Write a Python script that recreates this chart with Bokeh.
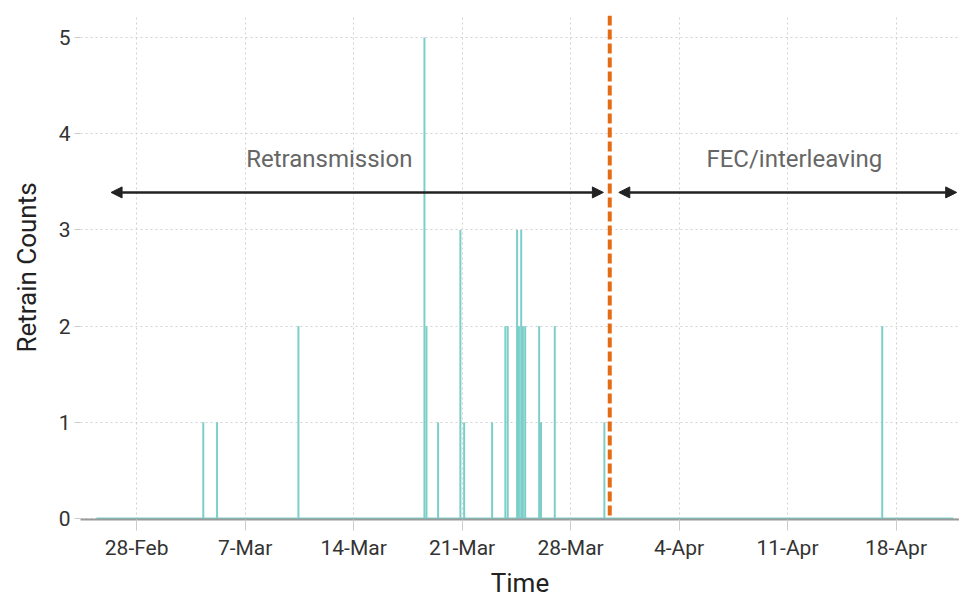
import pandas as pd
from bokeh.plotting import figure
from bokeh.models import (ColumnDataSource, FixedTicker, DatetimeTickFormatter, Span,
                          Arrow, NormalHead, Range1d)
from bokeh.core.properties import value
from bokeh.embed import file_html
from bokeh.resources import INLINE

# ---------------- data ----------------
event_times = ["2019-03-04 07:10", "2019-03-05 04:30", "2019-03-10 10:30",
               "2019-03-18 13:40", "2019-03-18 16:50", "2019-03-19 10:50",
               "2019-03-20 21:20", "2019-03-21 03:10", "2019-03-22 22:30",
               "2019-03-23 19:00", "2019-03-23 22:40", "2019-03-24 13:10",
               "2019-03-24 16:00", "2019-03-24 19:30", "2019-03-24 22:10",
               "2019-03-25 01:40", "2019-03-25 23:20", "2019-03-26 02:10",
               "2019-03-26 23:30", "2019-03-30 04:20", "2019-04-17 02:40"]
retrain_counts = [1, 1, 2, 5, 2, 1, 3, 1, 1, 2, 2, 3, 2, 3, 2, 2, 2, 1, 2, 1, 2]

series_start = "2019-02-25 09:40"
series_end = "2019-04-21 17:00"

switch_time = "2019-03-30 12:40"

tick_dates = ["2019-02-28", "2019-03-07", "2019-03-14", "2019-03-21",
              "2019-03-28", "2019-04-04", "2019-04-11", "2019-04-18"]
y_ticks = [0, 1, 2, 3, 4, 5]

phase_labels = ["Retransmission", "FEC/interleaving"]
phase_label_x = ["2019-03-12 10:20", "2019-04-11 10:30"]
phase_arrow_start = ["2019-02-26 08:20", "2019-03-31 02:40"]
phase_arrow_end = ["2019-03-30 02:50", "2019-04-21 22:00"]


def ms(s):
    return pd.Timestamp(s).timestamp() * 1000.0


FONT = "Roboto"
TEAL = "#7ccfc9"

x_start = ms("2019-02-24 09:00")
x_end = ms("2019-04-22 02:20")

p = figure(width=959, height=600, x_axis_type="datetime",
           output_backend="svg", toolbar_location=None,
           x_range=Range1d(x_start, x_end), y_range=Range1d(-0.01, 5.229),
           min_border_left=80, min_border_right=0, min_border_top=15,
           min_border_bottom=81)
p.outline_line_color = None
p.background_fill_color = "white"
p.border_fill_color = "white"

# grids
for g in (p.xgrid, p.ygrid):
    g.grid_line_color = "#d2d2d2"
    g.grid_line_dash = "2 3"
    g.grid_line_width = 1

# axes
p.xaxis.ticker = FixedTicker(ticks=[ms(d) for d in tick_dates])
fmt = "%-d-%b"
p.xaxis.formatter = DatetimeTickFormatter(days=fmt, months=fmt, hours=fmt,
                                          years=fmt, hourmin=fmt)
p.yaxis.ticker = FixedTicker(ticks=y_ticks)

p.xaxis.axis_line_color = "#9a9a9a"
p.xaxis.axis_line_width = 2
p.yaxis.axis_line_color = None
for ax in (p.xaxis, p.yaxis):
    ax.major_tick_line_color = "#cccccc"
    ax.major_tick_in = 0
    ax.minor_tick_line_color = None
    ax.major_label_text_font = FONT
    ax.major_label_text_font_size = "21px"
    ax.major_label_text_color = "#333333"
    ax.axis_label_text_font = FONT
    ax.axis_label_text_font_size = "26px"
    ax.axis_label_text_font_style = "normal"
    ax.axis_label_text_color = "#222222"
p.xaxis.major_tick_out = 11
p.xaxis.major_label_standoff = 5
p.xaxis.axis_label_standoff = 5
p.yaxis.major_tick_out = 6
p.yaxis.major_label_standoff = 4
p.yaxis.axis_label_standoff = 14
p.xaxis.axis_label = "Time"
p.yaxis.axis_label = "Retrain Counts"

# baseline of the series
base = ColumnDataSource(dict(t=pd.to_datetime([series_start, series_end]), y=[0, 0]))
p.line("t", "y", source=base, line_color=TEAL, line_width=2)

# spikes
src = ColumnDataSource(dict(t=pd.to_datetime(event_times), c=retrain_counts,
                            z=[0] * len(retrain_counts)))
p.segment(x0="t", y0="z", x1="t", y1="c", source=src, line_color=TEAL, line_width=2)

# switch line
p.add_layout(Span(location=ms(switch_time), dimension="height",
                  line_color="#e36c14", line_width=4, line_dash="10 4"))

# phase arrows
for a0, a1 in zip(phase_arrow_start, phase_arrow_end):
    p.add_layout(Arrow(x_start=ms(a0), y_start=3.39, x_end=ms(a1), y_end=3.39,
                       line_color="#222222", line_width=2.5,
                       start=NormalHead(size=11, fill_color="#222222", line_color="#222222"),
                       end=NormalHead(size=11, fill_color="#222222", line_color="#222222")))

lab = ColumnDataSource(dict(t=pd.to_datetime(phase_label_x), y=[3.74, 3.74], s=phase_labels))
p.text("t", "y", text="s", source=lab, text_align="center", text_baseline="middle",
       text_font=value(FONT), text_font_size="24px", text_color="#666666")

open("out.html", "w").write(file_html(p, INLINE))
